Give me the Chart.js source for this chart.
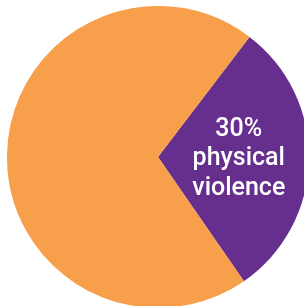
<!DOCTYPE html>
<html>
<head>
<meta charset="utf-8">
<script src="https://cdn.jsdelivr.net/npm/chart.js@4/dist/chart.umd.min.js"></script>
<style>
    html, body { margin: 0; padding: 0; background: #ffffff; overflow: hidden; }
    #wrap { position: absolute; left: 7px; top: 6px; width: 302px; height: 302px; }
</style>
</head>
<body>
<div id="wrap"><canvas id="chartPie"></canvas></div>
<script>
const labels = ['physical violence', 'other'];
const values = [30, 70];
const sliceColors = ['#662F8E', '#F89F4B'];
const sliceLabels = [['30%', 'physical', 'violence'], null];

// writes the label lines inside a slice
const sliceText = {
    id: 'sliceText',
    afterDatasetsDraw(chart) {
        const ctx = chart.ctx;
        const meta = chart.getDatasetMeta(0);
        meta.data.forEach((arc, i) => {
            const lines = sliceLabels[i];
            if (!lines) return;
            const p = arc.getProps(['x', 'y', 'startAngle', 'endAngle', 'outerRadius']);
            const mid = (p.startAngle + p.endAngle) / 2;
            const cx = p.x + Math.cos(mid) * p.outerRadius * 0.535;
            const cy = p.y + Math.sin(mid) * p.outerRadius * 0.535;
            ctx.save();
            ctx.fillStyle = '#ffffff';
            ctx.font = '500 25px Roboto';
            ctx.textAlign = 'center';
            ctx.textBaseline = 'middle';
            const lh = 29.5;
            lines.forEach((t, k) => {
                ctx.fillText(t, cx, cy + (k - (lines.length - 1) / 2) * lh);
            });
            ctx.restore();
        });
    }
};

new Chart(document.getElementById('chartPie'), {
    type: 'pie',
    data: {
        labels: labels,
        datasets: [{
            data: values,
            backgroundColor: sliceColors,
            borderWidth: 0
        }]
    },
    options: {
        responsive: true,
        maintainAspectRatio: false,
        animation: false,
        rotation: 37.3,
        layout: { padding: 0 },
        plugins: {
            legend: { display: false },
            tooltip: { enabled: false }
        }
    },
    plugins: [sliceText]
});
</script>
</body>
</html>
